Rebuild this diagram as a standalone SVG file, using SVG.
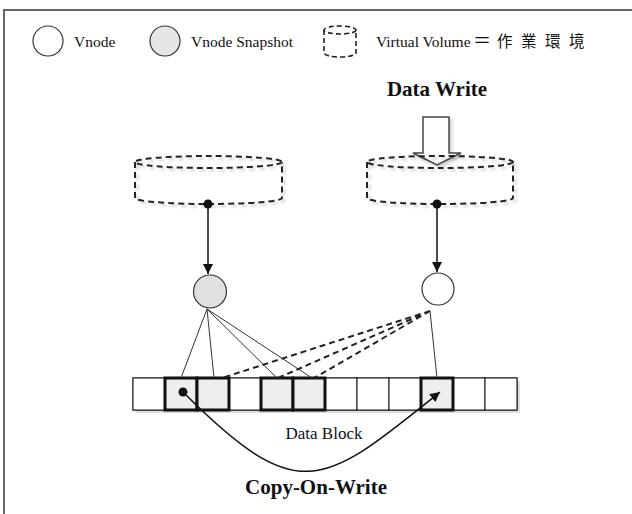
<svg xmlns="http://www.w3.org/2000/svg" width="632" height="514" viewBox="0 0 632 514">
<style>
.serif{font-family:"Liberation Serif","Noto Sans CJK TC",serif;fill:#111}
.cjk{font-family:"Noto Sans CJK TC","Noto Sans CJK SC",sans-serif;fill:#111}
.dash{fill:none;stroke:#222;stroke-width:2;stroke-dasharray:6 4}
.thin{fill:none;stroke:#333;stroke-width:1}
.dl{fill:none;stroke:#222;stroke-width:2;stroke-dasharray:6 4}
.cell{fill:#fff;stroke:#111;stroke-width:1}
.hcell{fill:#eeeeee;stroke:#111;stroke-width:3}
.node{stroke:#333;stroke-width:1.2}
</style>
<defs>
<marker id="ah" viewBox="0 0 10 10" refX="10" refY="5" markerWidth="10" markerHeight="10" markerUnits="userSpaceOnUse" orient="auto">
<path d="M0,0 L10,5 L0,10 z" fill="#111"/>
</marker>
<filter id="sh" x="-10%" y="-10%" width="130%" height="140%">
<feDropShadow dx="2.5" dy="2.5" stdDeviation="1.2" flood-color="#000" flood-opacity="0.18"/>
</filter>
</defs>
<rect width="632" height="514" fill="#fff"/>
<path d="M632,10 H4 V514" fill="none" stroke="#666" stroke-width="2"/>

<g id="legend">
<circle cx="48" cy="41" r="15" fill="#fff" class="node"/>
<text class="serif" x="74" y="47" font-size="15.5">Vnode</text>
<circle cx="165" cy="41" r="15" fill="#e6e6e6" class="node"/>
<text class="serif" x="191" y="47" font-size="15.5">Vnode Snapshot</text>
<ellipse cx="340" cy="30" rx="16" ry="4" fill="none" stroke="#222" stroke-width="1.6" stroke-dasharray="5 3"/>
<path d="M324,30 V53 A16,4 0 0 0 356,53 V30" fill="none" stroke="#222" stroke-width="1.6" stroke-dasharray="5 3"/>
<text class="serif" x="376" y="47" font-size="15.5">Virtual Volume</text>
<text class="cjk" x="473" y="47" font-size="18">＝</text>
<text class="cjk" x="497" y="47" font-size="15.5" letter-spacing="8.5">作業環境</text>
</g>

<g id="title-data-write">
<text class="serif" x="437" y="96" font-size="21" font-weight="bold" text-anchor="middle">Data Write</text>
<polygon points="423,117 449,117 449,153 461,153 437,165 413,153 423,153" fill="#fff" stroke="#444" stroke-width="1.5" filter="url(#sh)"/>
</g>

<g id="vol-left" filter="url(#sh)">
<ellipse cx="208.5" cy="162" rx="73.5" ry="6" class="dash"/>
<path d="M135,162 V198 A73.5,6 0 0 0 282,198 V162" class="dash"/>
</g>
<g id="vol-right" filter="url(#sh)">
<ellipse cx="440" cy="162" rx="73" ry="6" class="dash"/>
<path d="M367,162 V198 A73,6 0 0 0 513,198 V162" class="dash"/>
</g>

<g id="vnode-snapshot">
<circle cx="210" cy="291.5" r="16.5" fill="#e0e0e0" class="node"/>
</g>
<g id="vnode">
<circle cx="438" cy="289" r="16" fill="#fff" class="node"/>
</g>

<g id="data-block">
<rect x="136" y="381" width="384" height="32" fill="#ddd"/>
<rect x="133" y="378" width="384" height="32" fill="#fff" stroke="#111"/>
<rect class="cell" x="133" y="378" width="32" height="32"/>
<rect class="cell" x="229" y="378" width="32" height="32"/>
<rect class="cell" x="325" y="378" width="32" height="32"/>
<rect class="cell" x="357" y="378" width="32" height="32"/>
<rect class="cell" x="389" y="378" width="32" height="32"/>
<rect class="cell" x="453" y="378" width="32" height="32"/>
<rect class="cell" x="485" y="378" width="32" height="32"/>
<rect class="hcell" x="165" y="378" width="32" height="32"/>
<rect class="hcell" x="197" y="378" width="32" height="32"/>
<rect class="hcell" x="261" y="378" width="32" height="32"/>
<rect class="hcell" x="293" y="378" width="32" height="32"/>
<rect class="hcell" x="421" y="378" width="32" height="32"/>
<text class="serif" x="324" y="439" font-size="17" text-anchor="middle">Data Block</text>
</g>

<g id="connectors">
<circle cx="208" cy="204" r="4.5" fill="#111"/>
<line x1="208" y1="204" x2="208" y2="274" stroke="#111" stroke-width="1.5" marker-end="url(#ah)"/>
<circle cx="437" cy="204" r="4.5" fill="#111"/>
<line x1="437" y1="204" x2="437" y2="272" stroke="#111" stroke-width="1.5" marker-end="url(#ah)"/>
<path class="thin" d="M207,309 L181,378 M207,309 L214,378 M207,309 L277,378 M207,309 L312,378"/>
<path class="dl" d="M430,311 L222,378 M430,311 L278,378 M430,311 L314,378"/>
<path class="thin" d="M430,311 L437,378"/>
<circle cx="183" cy="392" r="4.5" fill="#111"/>
<path d="M183,392 C300,509 323,486 440,392" fill="none" stroke="#111" stroke-width="1.5" marker-end="url(#ah)"/>
</g>

<text class="serif" x="316" y="494" font-size="21" font-weight="bold" text-anchor="middle">Copy-On-Write</text>
</svg>
